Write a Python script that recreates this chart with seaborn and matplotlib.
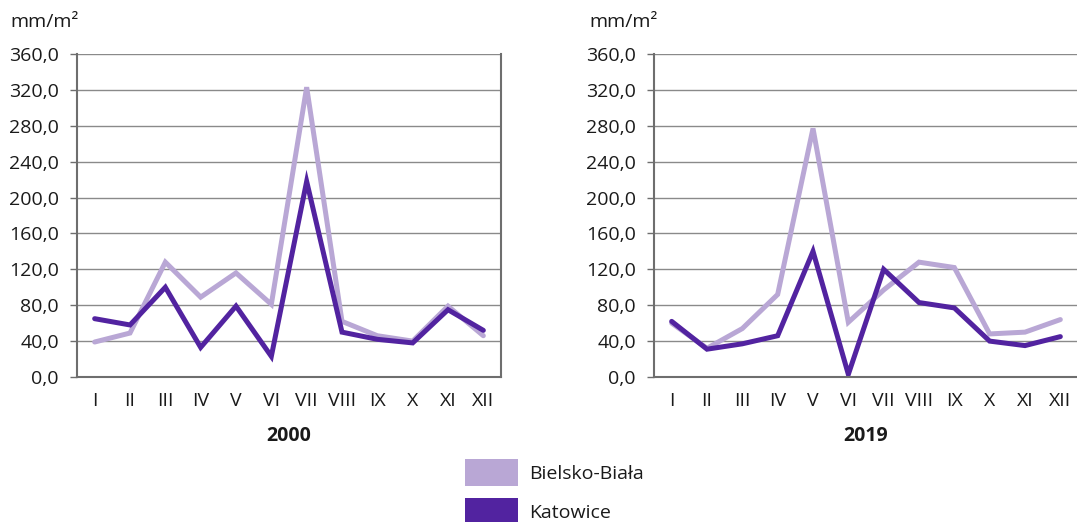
import pandas as pd
import numpy as np
import matplotlib
matplotlib.use("Agg")
import matplotlib.pyplot as plt
import seaborn as sns
from matplotlib.patches import Patch

# Monthly values (mm/m2)
months = ["I", "II", "III", "IV", "V", "VI", "VII", "VIII", "IX", "X", "XI", "XII"]
cities = ["Bielsko-Biała", "Katowice"]
years = ["2000", "2019"]

bielsko_2000 = [39, 49, 128, 89, 116, 81, 323, 62, 46, 40, 79, 46]
katowice_2000 = [65, 58, 100, 33, 79, 23, 218, 50, 42, 38, 75, 52]
bielsko_2019 = [60, 32, 54, 92, 277, 61, 97, 128, 122, 48, 50, 64]
katowice_2019 = [62, 31, 37, 46, 140, 3, 120, 83, 77, 40, 35, 45]

y_ticks = np.arange(0, 361, 40)
unit_label = "mm/m\u00b2"

LIGHT = "#b9a7d5"
DARK = "#5223a0"
GRID = "#8a8a8a"
SPINE = "#6e6e6e"
TEXT = "#1a1a1a"
FS = 14


def long_frame(b, k):
    rows = []
    for i in range(len(months)):
        rows.append({"month": i, "city": cities[0], "value": b[i]})
        rows.append({"month": i, "city": cities[1], "value": k[i]})
    return pd.DataFrame(rows)


sns.set_theme(style="white")
plt.rcParams["font.family"] = ["Open Sans", "DejaVu Sans"]
plt.rcParams["text.color"] = TEXT

fig = plt.figure(figsize=(10.77, 5.22), dpi=100)
bottom = 1 - 377 / 522
height = (377 - 54) / 522
ax_left = fig.add_axes([77 / 1077, bottom, 424 / 1077, height])
ax_right = fig.add_axes([654 / 1077, bottom, 424 / 1077, height])

panels = [
    (ax_left, long_frame(bielsko_2000, katowice_2000), years[0], 10),
    (ax_right, long_frame(bielsko_2019, katowice_2019), years[1], 589),
]

for ax, df, year, unit_x in panels:
    for y in y_ticks[1:]:
        ax.axhline(y, color=GRID, lw=1.0, zorder=0)
    sns.lineplot(data=df, x="month", y="value", hue="city",
                 palette={cities[0]: LIGHT, cities[1]: DARK},
                 hue_order=cities, lw=3.6, ax=ax, legend=False,
                 solid_joinstyle="miter")
    ax.set_xlim(-0.5, 11.5)
    ax.set_ylim(0, 360)
    ax.set_xticks(range(len(months)))
    ax.set_xticklabels(months)
    ax.set_yticks(y_ticks)
    ax.set_yticklabels([f"{v:.1f}".replace(".", ",") for v in y_ticks])
    ax.tick_params(axis="y", length=5, width=1, color=SPINE, pad=8,
                   labelsize=FS, labelcolor=TEXT, left=True)
    ax.tick_params(axis="x", length=0, pad=11, labelsize=FS, labelcolor=TEXT)
    ax.set_xlabel(year, fontsize=FS, fontweight="bold", color=TEXT, labelpad=11)
    ax.set_ylabel("")
    for side in ["left", "bottom", "right"]:
        ax.spines[side].set_color(SPINE)
        ax.spines[side].set_linewidth(1.5)
    ax.spines["top"].set_visible(False)
    fig.text(unit_x / 1077, 1 - 22 / 522, unit_label, fontsize=FS,
             va="center", ha="left", color=TEXT)

handles = [Patch(facecolor=LIGHT, edgecolor="none"),
           Patch(facecolor=DARK, edgecolor="none")]
fig.legend(handles, cities, loc="upper left",
           bbox_to_anchor=(465 / 1077, 1 - 459 / 522),
           frameon=False, fontsize=FS, handlelength=2.7, handleheight=1.75,
           handletextpad=0.6, labelspacing=0.62, borderpad=0,
           borderaxespad=0)

fig.savefig("out.png", dpi=100)
